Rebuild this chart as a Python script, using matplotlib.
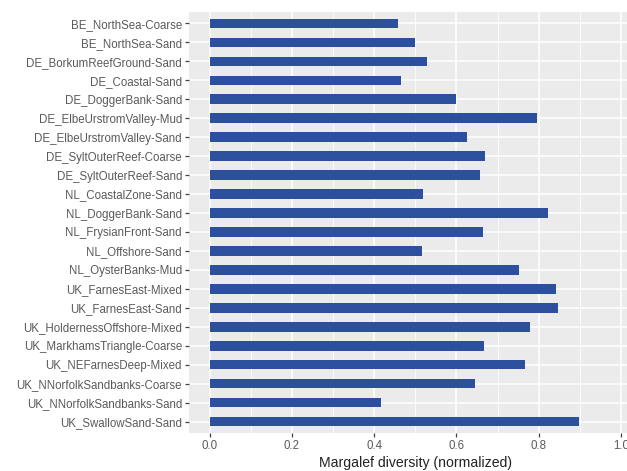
import matplotlib
matplotlib.use("Agg")
import matplotlib.pyplot as plt
from matplotlib.ticker import MultipleLocator

categories = [
    "BE_NorthSea-Coarse", "BE_NorthSea-Sand", "DE_BorkumReefGround-Sand",
    "DE_Coastal-Sand", "DE_DoggerBank-Sand", "DE_ElbeUrstromValley-Mud",
    "DE_ElbeUrstromValley-Sand", "DE_SyltOuterReef-Coarse", "DE_SyltOuterReef-Sand",
    "NL_CoastalZone-Sand", "NL_DoggerBank-Sand", "NL_FrysianFront-Sand",
    "NL_Offshore-Sand", "NL_OysterBanks-Mud", "UK_FarnesEast-Mixed",
    "UK_FarnesEast-Sand", "UK_HoldernessOffshore-Mixed", "UK_MarkhamsTriangle-Coarse",
    "UK_NEFarnesDeep-Mixed", "UK_NNorfolkSandbanks-Coarse", "UK_NNorfolkSandbanks-Sand",
    "UK_SwallowSand-Sand",
]
values = [
    0.457, 0.500, 0.528, 0.466, 0.599, 0.796, 0.626, 0.669, 0.658, 0.519, 0.823,
    0.665, 0.516, 0.751, 0.841, 0.846, 0.780, 0.668, 0.768, 0.645, 0.416, 0.899,
]
xticks = [0.0, 0.2, 0.4, 0.6, 0.8, 1.0]
xticklabels = ["0.0", "0.2", "0.4", "0.6", "0.8", "1.0"]
xlabel = "Margalef diversity (normalized)"

plt.rcParams['font.family'] = ['Liberation Sans', 'DejaVu Sans']

fig = plt.figure(figsize=(6.27, 4.71), dpi=100)
ax = fig.add_axes([189/627, 1-433/471, (641.5-189)/627, (433-12)/471])
ax.set_facecolor('#EBEBEB')

ypos = list(range(len(categories)))
ax.barh(ypos, values, height=0.5, color='#2C4F9E', zorder=3)

ax.set_xlim(-0.05, 1.05)
ax.set_ylim(len(categories) - 0.4, -0.6)
ax.set_yticks(ypos)
ax.set_yticklabels(categories)
ax.set_xticks(xticks)
ax.set_xticklabels(xticklabels)
ax.xaxis.set_minor_locator(MultipleLocator(0.1))

ax.grid(which='major', axis='both', color='white', linewidth=1.1, zorder=1)
ax.grid(which='minor', axis='x', color='white', linewidth=0.55, zorder=1)
ax.set_axisbelow(True)
for s in ax.spines.values():
    s.set_visible(False)

ax.tick_params(axis='both', which='major', length=3, width=0.9, color='#444444',
               labelcolor='#5A5A5A', labelsize=8.3, pad=2)
ax.tick_params(axis='both', which='minor', length=0)
ax.set_xlabel(xlabel, fontsize=10.1, color='#222222', labelpad=3)

fig.savefig("out.png", dpi=100)
